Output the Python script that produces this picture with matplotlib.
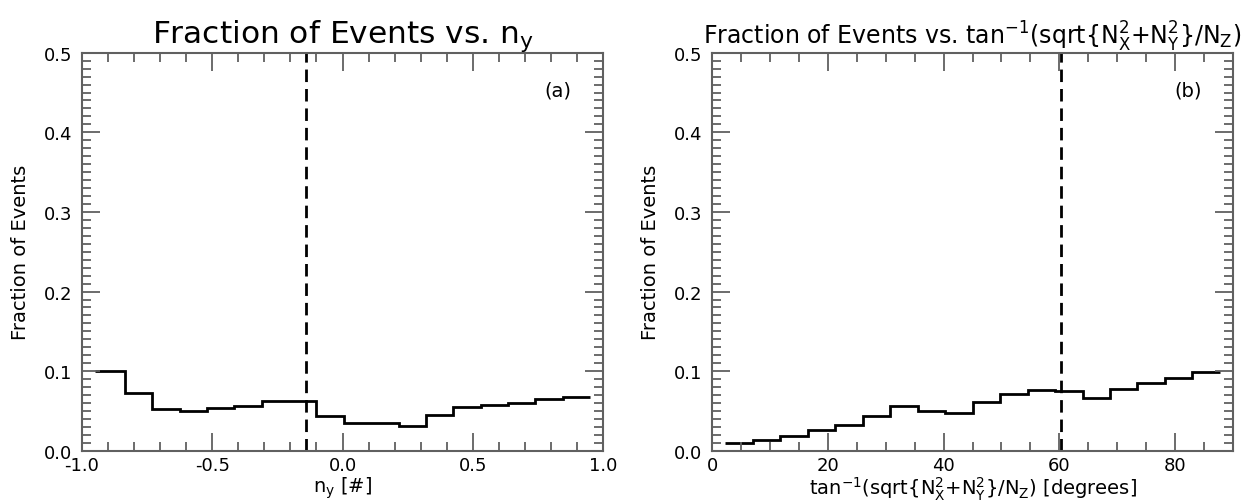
import matplotlib
matplotlib.use('Agg')
import matplotlib.pyplot as plt
from matplotlib.ticker import MultipleLocator

# histogram (a): n_y
ny_edges = [-0.952, -0.835, -0.730, -0.625, -0.520, -0.415, -0.310, -0.205, -0.100,
            0.005, 0.110, 0.215, 0.320, 0.425, 0.530, 0.635, 0.740, 0.845, 0.950]
ny_frac = [0.100, 0.0723, 0.0528, 0.0494, 0.0540, 0.0566, 0.0621, 0.0621, 0.0434,
           0.0353, 0.0353, 0.0315, 0.0451, 0.0545, 0.0570, 0.0600, 0.0655, 0.0680]
ny_cut = -0.141

# histogram (b): angle in degrees
ang_edges = [2.2, 7.0, 11.8, 16.5, 21.3, 26.0, 30.8, 35.5, 40.3, 45.0,
             49.7, 54.5, 59.2, 64.0, 68.7, 73.4, 78.2, 82.9, 87.7]
ang_frac = [0.0094, 0.0140, 0.0190, 0.0264, 0.0328, 0.0443, 0.0557, 0.0498, 0.0477,
            0.0617, 0.0719, 0.0762, 0.0749, 0.0660, 0.0774, 0.0847, 0.0919, 0.0987]
ang_cut = 60.3

plt.rcParams['font.family'] = 'DejaVu Sans'
plt.rcParams['axes.unicode_minus'] = False

frame = '#606060'


def style(ax, xmaj, xmin):
    for s in ax.spines.values():
        s.set_color(frame)
        s.set_linewidth(1.5)
    ax.set_ylim(0, 0.5)
    ax.yaxis.set_major_locator(MultipleLocator(0.1))
    ax.yaxis.set_minor_locator(MultipleLocator(0.01))
    ax.xaxis.set_major_locator(MultipleLocator(xmaj))
    ax.xaxis.set_minor_locator(MultipleLocator(xmin))
    ax.yaxis.set_major_formatter('{x:.1f}')
    ax.tick_params(which='both', direction='in', top=True, right=True,
                   color=frame, width=1.3, labelsize=13)
    ax.tick_params(which='major', length=13)
    ax.tick_params(which='minor', length=6.5)
    ax.tick_params(axis='y', which='major', pad=7)
    ax.tick_params(axis='x', which='major', pad=4)
    ax.set_ylabel('Fraction of Events', fontsize=14, labelpad=10)


fig = plt.figure(figsize=(12.49, 5.02), dpi=100)
ax1 = fig.add_axes([0.0657, 0.100, 0.4171, 0.793])
ax2 = fig.add_axes([0.5701, 0.100, 0.4171, 0.793])

ax1.stairs(ny_frac, ny_edges, baseline=None, color='black', linewidth=2)
ax1.plot([ny_cut, ny_cut], [0, 0.5], color='black', linewidth=2, linestyle=(0, (4.5, 2.5)))
ax1.set_xlim(-1, 1)
style(ax1, 0.5, 0.1)
ax1.xaxis.set_major_formatter('{x:.1f}')
ax1.set_xlabel('n$_\\mathregular{y}$ [#]', fontsize=14, labelpad=0)
ax1.set_title('Fraction of Events vs. n$_\\mathregular{y}$', fontsize=22.5, pad=6)
ax1.text(0.94, 0.93, '(a)', transform=ax1.transAxes, ha='right', va='top', fontsize=14)

ax2.stairs(ang_frac, ang_edges, baseline=None, color='black', linewidth=2)
ax2.plot([ang_cut, ang_cut], [0, 0.5], color='black', linewidth=2, linestyle=(0, (4.5, 2.5)))
ax2.set_xlim(0, 90)
style(ax2, 20, 5)
ax2.set_xlabel('tan$^\\mathregular{-1}$(sqrt{N$_\\mathregular{X}^\\mathregular{2}$+N$_\\mathregular{Y}^\\mathregular{2}$}/N$_\\mathregular{Z}$) [degrees]',
               fontsize=14, labelpad=0)
ax2.set_title('Fraction of Events vs. tan$^\\mathregular{-1}$(sqrt{N$_\\mathregular{X}^\\mathregular{2}$+N$_\\mathregular{Y}^\\mathregular{2}$}/N$_\\mathregular{Z}$)',
              fontsize=17, pad=6)
ax2.text(0.94, 0.93, '(b)', transform=ax2.transAxes, ha='right', va='top', fontsize=14)

fig.savefig('out.png', dpi=100)
